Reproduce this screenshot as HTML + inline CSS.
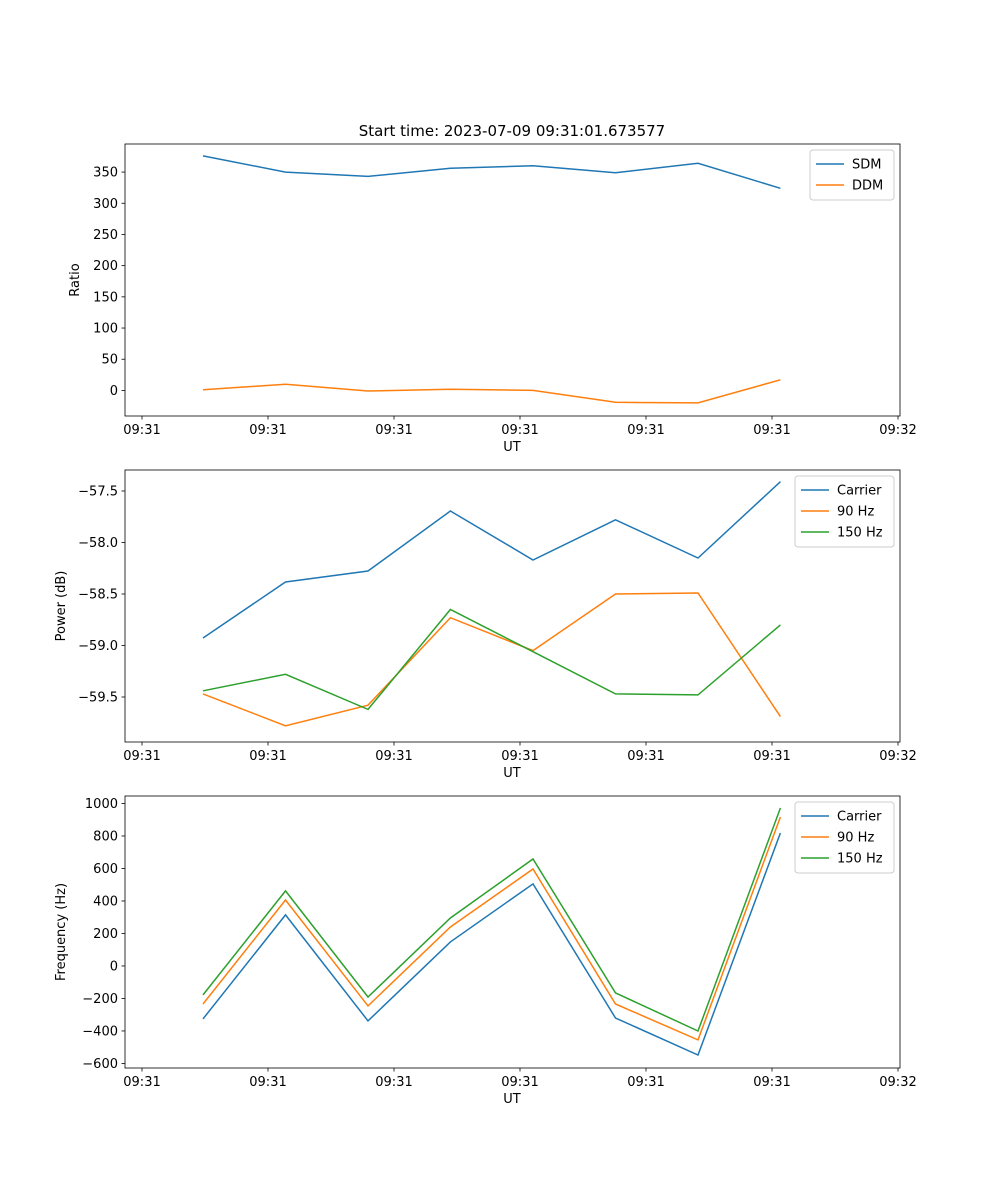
<!DOCTYPE html>
<html><head><meta charset="utf-8"><style>
body{margin:0;background:#fff;}
svg{display:block;font-family:"DejaVu Sans","Liberation Sans",sans-serif;}
</style></head><body>
<svg id="fig" width="1000" height="1200" xmlns="http://www.w3.org/2000/svg">
<text x="512" y="136" font-size="15" text-anchor="middle">Start time: 2023-07-09 09:31:01.673577</text>
</svg>
<script>
const xTickVals=[0,1,2,3,4,5,6];
const xTickLabels=["09:31","09:31","09:31","09:31","09:31","09:31","09:32"];
const times=[0.484,1.139,1.794,2.448,3.103,3.758,4.413,5.067];
const sdm=[376,350,343,356,360,349,364,324];
const ddm=[1,10,-1,2,0,-19,-20,17];
const powCarrier=[-58.927,-58.383,-58.277,-57.694,-58.17,-57.78,-58.15,-57.41];
const pow90=[-59.47,-59.78,-59.58,-58.73,-59.05,-58.5,-58.49,-59.69];
const pow150=[-59.44,-59.28,-59.62,-58.65,-59.06,-59.47,-59.48,-58.80];
const freqCarrier=[-326,314,-338,148,505,-320,-548,818];
const freq90=[-234,406,-246,240,597,-234,-455,917];
const freq150=[-178,462,-191,295,658,-166,-400,972];
const ticks1=[0,50,100,150,200,250,300,350];
const ticks2=[-59.5,-59.0,-58.5,-58.0,-57.5];
const ticks3=[-600,-400,-200,0,200,400,600,800,1000];
const C=["#1f77b4","#ff7f0e","#2ca02c"];
const NS="http://www.w3.org/2000/svg";
const fig=document.getElementById('fig');
function el(tag,attrs,parent){const e=document.createElementNS(NS,tag);for(const k in attrs)e.setAttribute(k,attrs[k]);(parent||fig).appendChild(e);return e;}
const L=125,R=900;
function xs(v){return 142+v*126;}
function panel(top,bot,ymin,ymax,ticks,fmt,ylabel,series,names,legW,name){
  const g=el('g',{});
  
  
  const ys=v=>bot-(v-ymin)/(ymax-ymin)*(bot-top);
  series.forEach((s,i)=>{
    const pts=s.map((v,j)=>xs(times[j]).toFixed(1)+','+ys(v).toFixed(1)).join(' ');
    const p=el('polyline',{points:pts,fill:'none',stroke:C[i],'stroke-width':1.5},g);
    
    
  });
  const fr=el('rect',{x:L,y:top,width:R-L,height:bot-top,fill:'none',stroke:'#000','stroke-width':0.8},g);
  
  
  xTickVals.forEach((v,i)=>{
    const x=xs(v);
    el('line',{x1:x,x2:x,y1:bot,y2:bot+3.5,stroke:'#000','stroke-width':0.8},g);
    const t=el('text',{x:x,y:bot+18,'font-size':13,'text-anchor':'middle'},g);
    t.textContent=xTickLabels[i];
    
    
  });
  ticks.forEach(v=>{
    const y=ys(v);
    el('line',{x1:L-3.5,x2:L,y1:y,y2:y,stroke:'#000','stroke-width':0.8},g);
    const t=el('text',{x:L-7,y:y+4.5,'font-size':13,'text-anchor':'end'},g);
    t.textContent=fmt(v);
    
    
  });
  const xl=el('text',{x:512,y:bot+35,'font-size':13,'text-anchor':'middle'},g);
  xl.textContent='UT';
  
  
  const yl=el('text',{x:0,y:0,'font-size':13,'text-anchor':'middle',transform:`translate(${name==='ratio-panel'?79:65},${(top+bot)/2}) rotate(-90)`},g);
  yl.textContent=ylabel;
  
  
  const lx=R-6-legW, ly=top+6;
  const lg=el('g',{},g);
  
  
  el('rect',{x:lx,y:ly,width:legW,height:8+names.length*21,rx:3,fill:'#fff','fill-opacity':0.8,stroke:'#ccc'},lg);
  names.forEach((n,i)=>{
    const yy=ly+14+i*21;
    el('line',{x1:lx+6,x2:lx+34,y1:yy,y2:yy,stroke:C[i],'stroke-width':1.5},lg);
    const t=el('text',{x:lx+42,y:yy+4.5,'font-size':13},lg);
    t.textContent=n;
    
    
  });
}
panel(144,416,-41,395,ticks1,v=>v<0?'\u2212'+(-v):String(v),'Ratio',[sdm,ddm],['SDM','DDM'],84,'ratio-panel');
panel(470,742,-59.937,-57.296,ticks2,v=>'\u2212'+(-v).toFixed(1),'Power (dB)',[powCarrier,pow90,pow150],['Carrier','90 Hz','150 Hz'],99,'power-panel');
panel(796,1068,-628,1046,ticks3,v=>v<0?'\u2212'+(-v):String(v),'Frequency (Hz)',[freqCarrier,freq90,freq150],['Carrier','90 Hz','150 Hz'],99,'frequency-panel');
</script>
</body></html>
